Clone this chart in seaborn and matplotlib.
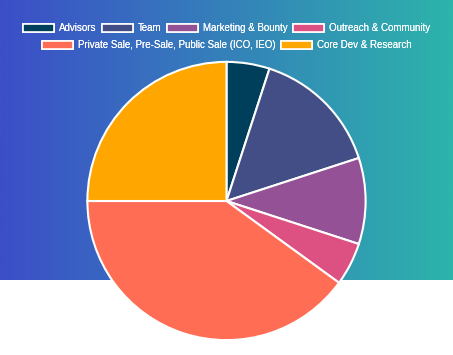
import numpy as np
import seaborn as sns
import matplotlib.pyplot as plt
from matplotlib.colors import LinearSegmentedColormap
from matplotlib.patches import Patch

# --- Data ---
labels = ["Advisors", "Team", "Marketing & Bounty", "Outreach & Community",
          "Private Sale, Pre-Sale, Public Sale (ICO, IEO)", "Core Dev & Research"]
shares = [5, 15, 10, 5, 40, 25]
colors = ["#003f5c", "#444e86", "#955196", "#dd5182", "#ff6e54", "#ffa600"]

# --- Style ---
sns.set_theme(style="white")
plt.rcParams["font.family"] = ["Liberation Sans", "DejaVu Sans"]

fig = plt.figure(figsize=(4.53, 3.55), dpi=100)
fig.patch.set_facecolor("white")

# gradient banner behind the pie
bg = fig.add_axes([0, 1 - 280 / 355, 1, 280 / 355])
grad = LinearSegmentedColormap.from_list("banner", ["#3c4ec8", "#2db4ab"])
bg.imshow(np.linspace(0, 1, 256)[None, :], aspect="auto", cmap=grad, extent=[0, 1, 0, 1])
bg.set_axis_off()

# --- Pie ---
r = 140.5
cx, cy = 226.5, 201
ax = fig.add_axes([(cx - r) / 453, 1 - (cy + r) / 355, 2 * r / 453, 2 * r / 355])
ax.pie(shares, colors=colors, startangle=90, counterclock=False,
       wedgeprops=dict(edgecolor="white", linewidth=1.5))
ax.set_xlim(-1.01, 1.01)
ax.set_ylim(-1.01, 1.01)
ax.set_axis_off()

# --- Legend (two centred rows) ---
fs = 7.0
handles = [Patch(facecolor=c, edgecolor="white", linewidth=1.2) for c in colors]
rows = [(0, 4, 28), (4, 6, 45)]
for start, stop, ypx in rows:
    leg = fig.legend(handles[start:stop], labels[start:stop], loc="center",
                     bbox_to_anchor=(0.5, 1 - ypx / 355), ncol=stop - start,
                     frameon=False, fontsize=fs, handlelength=3.2, handleheight=0.9,
                     handletextpad=0.5, columnspacing=0.55, borderpad=0, borderaxespad=0)
    for t in leg.get_texts():
        t.set_color("white")
    fig.add_artist(leg)

plt.savefig("out.png", dpi=100)
